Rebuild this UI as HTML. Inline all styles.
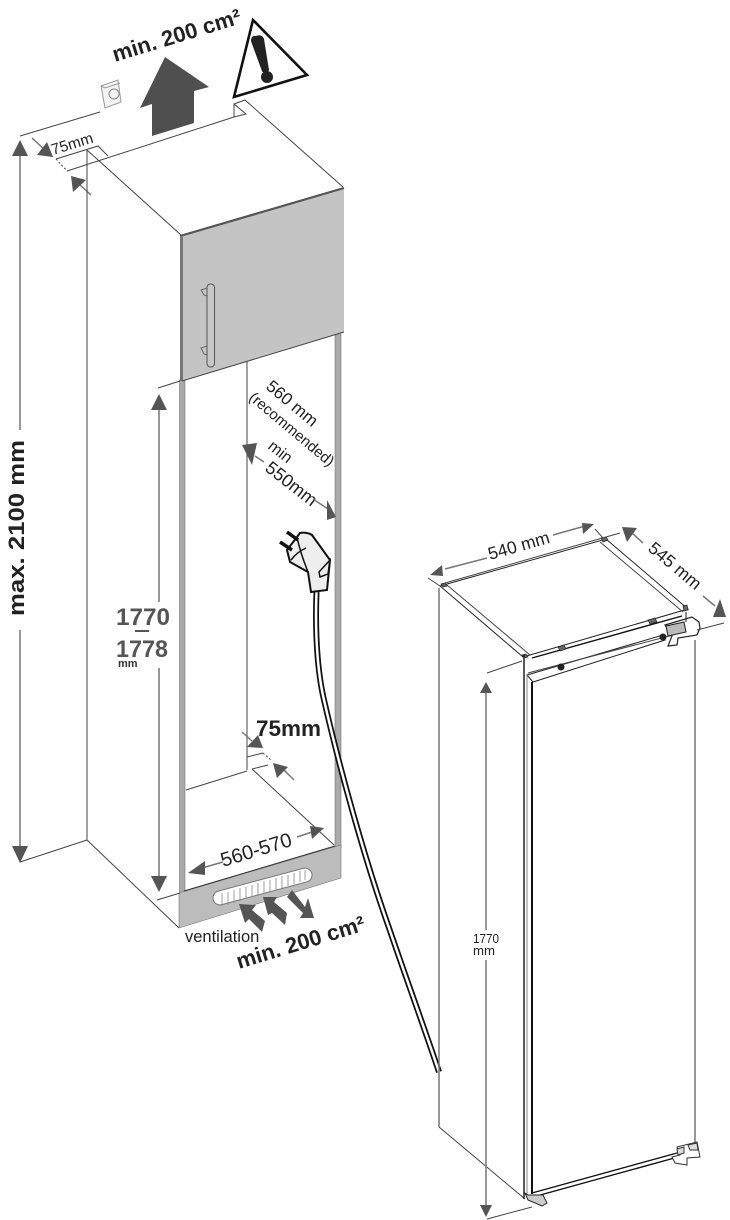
<!DOCTYPE html>
<html>
<head>
<meta charset="utf-8">
<style>
html,body{margin:0;padding:0;background:#fff;width:730px;height:1220px;overflow:hidden}
svg{display:block}
text{font-family:"Liberation Sans",sans-serif}
.t{stroke:#444;stroke-width:1;fill:none}
.g{stroke:#777;stroke-width:1.5;fill:none}
.k{stroke:#111;stroke-width:1.4;fill:none}
.a{fill:#555;stroke:none}
</style>
</head>
<body>
<svg width="730" height="1220" viewBox="0 0 730 1220" xmlns="http://www.w3.org/2000/svg">
<!-- socket -->
<path d="M101 86L118 80L121 102L105 108Z" fill="#f4f4f4" stroke="#999"/>
<path d="M101 86L105 88L120 83" fill="none" stroke="#999"/>
<circle cx="114" cy="94" r="5" fill="none" stroke="#888"/>
<!-- up arrow -->
<path d="M165 57L209 87L194 91V123L152 136V104L140 108Z" fill="#4f4f4f"/>
<text transform="translate(115 62) rotate(-17)" font-size="22" font-weight="bold" fill="#222">min. 200 cm²</text>
<!-- warning -->
<path d="M253 20L307 75L234 97Z" fill="#fff" stroke="#111" stroke-width="2.600"/>
<path d="M256 37Q252 36 252 41L263 71Q266 73 268 70L263 39Q261 35 256 37Z" fill="#222" stroke="#222" stroke-width="2"/>
<circle cx="267" cy="77" r="6" fill="#222"/>
<!-- top left dim -->
<path class="t" d="M20 136L100 112"/>
<path class="g" d="M32 138L46 151"/>
<path class="a" d="M53 157L37 155L47 142Z"/>
<text transform="translate(53 155) rotate(-17)" font-size="15.5" fill="#222">75mm</text>
<path class="t" d="M56 159L67 171" stroke-dasharray="2 2"/>
<path class="t" d="M67 171L234 117V104L245 100L343 187"/>
<path class="t" d="M234 104L246 114L234 117"/>
<path class="t" d="M56 159L98 146L108 156"/>
<path class="t" d="M87 150L181 235"/>
<path class="g" d="M91 195L80 185"/>
<path class="a" d="M71 176L73 192L86 180Z"/>
<!-- cabinet verticals -->
<path class="t" d="M87 150V840L179 928"/>
<path class="t" d="M247 345V770"/>
<rect x="179.500" y="380" width="5.500" height="515" fill="#aaa" stroke="#777" stroke-width=".6"/>
<rect x="335" y="330" width="6" height="518" fill="#aaa" stroke="#777" stroke-width=".6"/>
<!-- door -->
<path d="M180 236L344 188V332L180 381Z" fill="#c4c4c4"/>
<path d="M180 236L344 188" stroke="#555" stroke-width="2.200" fill="none"/>
<path d="M181.500 236V381" stroke="#777" stroke-width="3" fill="none"/>
<path d="M182 381L344 332" stroke="#444" stroke-width="1" fill="none"/>
<rect x="207" y="284" width="7.500" height="83" rx="3.500" fill="#c8c8c8" stroke="#555"/>
<path d="M207 288L201 290L204 295L207 296M207 346L201 348L204 354L207 355" fill="none" stroke="#666"/>
<!-- inner floor -->
<path class="t" d="M186 790L247 771M252 769L334 845"/>
<path class="t" d="M247 757L263 753M252 769L268 765"/>
<path class="t" d="M263 753L272 761" stroke-dasharray="2 2"/>
<!-- plinth -->
<path d="M179 893L341 845V878L179 928Z" fill="#bcbcbc" stroke="#777" stroke-width=".6"/>
<path d="M184 891L335 846" stroke="#333" stroke-width="1"/>
<rect x="-51" y="-7" width="102" height="14" rx="7" transform="translate(262.500 886.500) rotate(-15)" fill="#fff" stroke="#777"/>
<path stroke="#888" stroke-width=".8" d="M222 893V906M228 892V905M234 890V903M240 888V901M246 887V899M252 885V897M258 883V896M264 881V894M270 880V892M276 878V890M282 876V888M288 875V886M294 873V884M300 871V882M305 870V880"/>
<!-- ventilation arrows -->
<path class="a" d="M239 904L256 905L252 910L265 921L262 932L249 919L245 923Z"/>
<path class="a" d="M263 897L277 897L274 902L287 913L285 925L272 913L268 915Z"/>
<path class="a" d="M287 897L292 890L305 907L308 898L314 918L300 918L303 913Z"/>
<text x="185" y="942" font-size="16.500" fill="#222">ventilation</text>
<text transform="translate(239 969) rotate(-17)" font-size="22" font-weight="bold" fill="#222">min. 200 cm²</text>
<!-- max dim -->
<path class="g" d="M20 150V430M20 630V848"/>
<path class="a" d="M20 140L28 156H12Z"/>
<path class="a" d="M20 863L12 846H28Z"/>
<path class="t" d="M20 862L87 840"/>
<text transform="translate(24 616) rotate(-90)" font-size="22" font-weight="bold" fill="#222" textLength="176" lengthAdjust="spacingAndGlyphs">max. 2100 mm</text>
<!-- 1770 dim -->
<path class="t" d="M158 388L180 381"/>
<path class="g" d="M159 405V602M159 668V878"/>
<path class="a" d="M159 394L167 410H151Z"/>
<path class="a" d="M159 892L151 876H167Z"/>
<path class="t" d="M157 900L180 893"/>
<text x="116" y="625" font-size="24" font-weight="bold" fill="#555" textLength="54" lengthAdjust="spacingAndGlyphs">1770</text>
<rect x="135" y="630" width="14" height="2" fill="#555"/>
<text x="116" y="657" font-size="24" font-weight="bold" fill="#555" textLength="52" lengthAdjust="spacingAndGlyphs">1778</text>
<text x="118" y="667" font-size="11" font-weight="bold" fill="#333">mm</text>
<!-- 560 text -->
<text transform="translate(265 388) rotate(40)" font-size="17" fill="#222">560 mm</text>
<text transform="translate(248 399) rotate(40)" font-size="15" fill="#222">(recommended)</text>
<text transform="translate(267 448) rotate(38)" font-size="16" fill="#222">min</text>
<text transform="translate(264 470) rotate(38)" font-size="18" fill="#222">550mm</text>
<path class="g" d="M255 456L264 462M313 499L328 509"/>
<path class="a" d="M242 445L257 443L252 465Z"/>
<path class="a" d="M336 517L327 500L327 520Z"/>
<!-- 75mm lower -->
<text x="256" y="736" font-size="22.500" font-weight="bold" fill="#222">75mm</text>
<path class="g" d="M242 732L252 741"/>
<path class="a" d="M263 748L247 747L258 735Z"/>
<path class="g" d="M294 780L282 768"/>
<path class="a" d="M273 763L277 778L288 767Z"/>
<!-- 560-570 -->
<text transform="translate(223 867) rotate(-17)" font-size="20" fill="#222">560-570</text>
<path class="g" d="M202 868L223 862M297 837L312 832"/>
<path class="a" d="M188 873L205 861L205 875Z"/>
<path class="a" d="M324 828L310 826L312 839Z"/>
<!-- cord -->
<path d="M316.500 592C315 630 317 670 324 700C340 770 365 860 388 925C405 975 425 1030 439 1072" fill="none" stroke="#111" stroke-width="6"/>
<path d="M316.500 592C315 630 317 670 324 700C340 770 365 860 388 925C405 975 425 1030 439 1072" fill="none" stroke="#fff" stroke-width="2.500"/>
<!-- plug -->
<path d="M287 550L300 533C304 532 309 533 312 535L330 560L327 590L311 592L308 572L290 562Z" fill="#eee" stroke="#111" stroke-width="2"/>
<path d="M280 542L292 550M287 532L298 540" stroke="#111" stroke-width="3.500" fill="none"/>
<path d="M297 537Q300 552 308 572M291 560Q297 552 306 548M319 572L330 560L328 574L320 577Z" stroke="#111" stroke-width="1.500" fill="none"/>
<!-- fridge body -->
<path d="M440 586L606 539L688 609L530 655L523 657Z" fill="#fff" stroke="#222" stroke-width="1"/>
<path class="t" d="M447 585L530 655M600 542L683 612"/>
<path class="k" d="M532 658L682 616"/>
<path d="M527 675L533 682L665 640L663 635Z" fill="#fff" stroke="#222"/>
<path class="t" d="M528 673L673 635"/>
<circle cx="561" cy="667" r="3.500" fill="#222"/>
<circle cx="663" cy="637" r="3.500" fill="#222"/>
<path d="M558 647l6 -2 2 4 -6 2zM648 620l7 -2 2 4 -7 2zM601 538l5 -1 2 3-5 2zM441 584l4 -1 2 3 -4 1zM522 655l4 -1 2 3 -4 1zM683 606l4 -1 1 5 -4 1z" fill="#666" stroke="#222" stroke-width=".7"/>
<path d="M665 625L692 617L699 622L700 628L697 635L678 638L677 645L668 646L672 636Z" fill="#fff" stroke="#222" stroke-width="1.200"/>
<path d="M666 626L684 622L686 632L668 636Z" fill="#bbb" stroke="#222"/>
<path d="M686 612V622" stroke="#222"/>
<path class="g" d="M439 588V1127"/>
<path class="t" d="M439 1127L525 1199"/>
<path d="M524 655V1199" stroke="#222" stroke-width="1.500"/>
<path d="M527 675V1197" stroke="#888" stroke-width="1"/>
<path d="M532 682V1194" stroke="#111" stroke-width="2"/>
<path class="g" d="M695 640V1143"/>
<!-- bottom -->
<path class="k" d="M532 1193L677 1153M533 1197L678 1157"/>
<path d="M525 1193L528 1195L543 1195L547 1203L542 1206L528 1200Z" fill="#ccc" stroke="#222"/>
<path d="M677 1147L697 1142L700 1157L687 1158L687 1165L675 1163L672 1157L680 1155Z" fill="#fff" stroke="#333"/>
<path d="M677 1149L684 1147L684 1153L678 1155ZM688 1145L697 1143L698 1150L690 1150Z" fill="#ddd" stroke="#333"/>
<!-- dims right -->
<path class="t" d="M428 578L440 586M445 583L620 533M595 529L603 538"/>
<path class="t" d="M487 673L522 661M697 630L724 623"/>
<path class="g" d="M445 569L487 558M553 535L585 526"/>
<path class="a" d="M430 575L442 565L443 576Z"/>
<path class="a" d="M594 524L582 523L583 534Z"/>
<text transform="translate(490 560) rotate(-16)" font-size="17.500" fill="#222">540 mm</text>
<path class="g" d="M632 533L643 543M703 596L715 606"/>
<path class="a" d="M622 527L637 528L627 542Z"/>
<path class="a" d="M726 617L713 617L720 599Z"/>
<text transform="translate(647 550) rotate(40)" font-size="17.500" fill="#222">545 mm</text>
<path class="g" d="M486 690V930M486 960V1206"/>
<path class="a" d="M486 682L492 693H480Z"/>
<path class="a" d="M486 1217L480 1205H492Z"/>
<path class="t" d="M487 1219L532 1207"/>
<rect x="472" y="932" width="30" height="26" fill="#fff"/>
<text x="473" y="943" font-size="13" fill="#222" textLength="26" lengthAdjust="spacingAndGlyphs">1770</text>
<text x="473" y="955" font-size="13" fill="#222" textLength="22" lengthAdjust="spacingAndGlyphs">mm</text>
</svg>
</body>
</html>
